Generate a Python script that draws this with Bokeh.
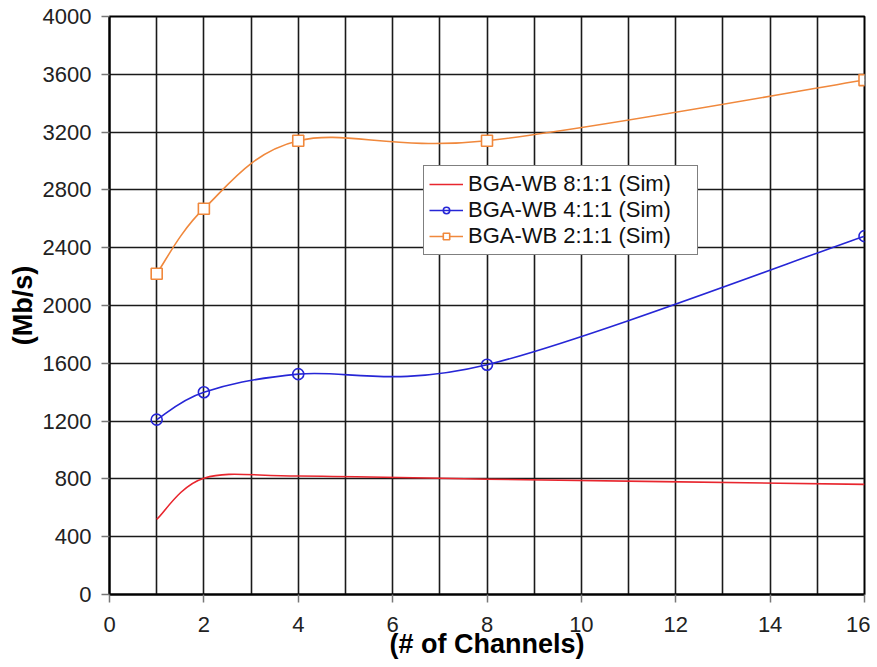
from bokeh.plotting import figure
from bokeh.models import Range1d, FixedTicker, SingleIntervalTicker, Legend, LegendItem, ColumnDataSource
from bokeh.embed import file_html
from bokeh.resources import INLINE

# ---- data ----
channels = [1, 2, 4, 8, 16]
wb_8_1_1 = [520, 805, 820, 798, 762]
wb_4_1_1 = [1210, 1400, 1525, 1590, 2480]
wb_2_1_1 = [2220, 2670, 3140, 3140, 3560]
series_labels = ["BGA-WB 8:1:1 (Sim)", "BGA-WB 4:1:1 (Sim)", "BGA-WB 2:1:1 (Sim)"]
x_ticks = [0, 2, 4, 6, 8, 10, 12, 14, 16]
y_ticks = [0, 400, 800, 1200, 1600, 2000, 2400, 2800, 3200, 3600, 4000]

RED = "#e8262e"
BLUE = "#2626d6"
ORANGE = "#f0883c"
FONT = "Liberation Sans"


def smooth_segments(xs, ys):
    """Catmull-Rom style control points (like spreadsheet 'smoothed line')."""
    n = len(xs)
    d = dict(x0=[], y0=[], x1=[], y1=[], cx0=[], cy0=[], cx1=[], cy1=[])
    for i in range(n - 1):
        im = max(i - 1, 0)
        ip = min(i + 2, n - 1)
        d["x0"].append(xs[i]); d["y0"].append(ys[i])
        d["x1"].append(xs[i + 1]); d["y1"].append(ys[i + 1])
        d["cx0"].append(xs[i] + (xs[i + 1] - xs[im]) / 6.0)
        d["cy0"].append(ys[i] + (ys[i + 1] - ys[im]) / 6.0)
        d["cx1"].append(xs[i + 1] - (xs[ip] - xs[i]) / 6.0)
        d["cy1"].append(ys[i + 1] - (ys[ip] - ys[i]) / 6.0)
    return ColumnDataSource(d)


p = figure(width=870, height=667, output_backend="svg", toolbar_location=None,
           x_range=Range1d(0, 16), y_range=Range1d(0, 4000),
           min_border_left=109, min_border_right=6, min_border_top=16, min_border_bottom=73)
p.background_fill_color = "white"
p.border_fill_color = "white"
p.outline_line_color = "black"
p.outline_line_width = 2

p.xaxis.ticker = FixedTicker(ticks=x_ticks)
p.yaxis.ticker = FixedTicker(ticks=y_ticks)
p.xgrid.ticker = SingleIntervalTicker(interval=1)
p.ygrid.ticker = FixedTicker(ticks=y_ticks)
for g in (p.xgrid, p.ygrid):
    g.grid_line_color = "#1a1a1a"
    g.grid_line_width = 1.6
    g.grid_line_alpha = 1.0

for ax in (p.xaxis, p.yaxis):
    ax.axis_line_color = "black"
    ax.axis_line_width = 2
    ax.major_tick_line_color = "#777777"
    ax.major_tick_line_width = 1.5
    ax.major_tick_in = 0
    ax.major_tick_out = 8
    ax.minor_tick_line_color = None
    ax.major_label_text_font = FONT
    ax.major_label_text_font_size = "22px"
    ax.major_label_text_color = "#222222"
    ax.axis_label_text_font = FONT
    ax.axis_label_text_font_size = "27px"
    ax.axis_label_text_font_style = "bold"
    ax.axis_label_text_color = "black"

p.xaxis.axis_label = "(# of Channels)"
p.yaxis.axis_label = "(Mb/s)"
p.xaxis.major_label_standoff = 14
p.xaxis.axis_label_standoff = -6
p.yaxis.major_label_standoff = 10
p.yaxis.axis_label_standoff = 2

# ---- series ----
s8 = smooth_segments(channels, wb_8_1_1)
s4 = smooth_segments(channels, wb_4_1_1)
s2 = smooth_segments(channels, wb_2_1_1)

bz = dict(x0="x0", y0="y0", x1="x1", y1="y1", cx0="cx0", cy0="cy0", cx1="cx1", cy1="cy1")
l8 = p.bezier(source=s8, line_color=RED, line_width=1.6, **bz)
l4 = p.bezier(source=s4, line_color=BLUE, line_width=1.6, **bz)
l2 = p.bezier(source=s2, line_color=ORANGE, line_width=1.6, **bz)

m4 = p.scatter(channels, wb_4_1_1, marker="circle", size=11, line_color=BLUE,
               line_width=1.6, fill_color=None)
m2 = p.scatter(channels, wb_2_1_1, marker="square", size=11, line_color=ORANGE,
               line_width=1.6, fill_color="white")

legend = Legend(items=[
    LegendItem(label=series_labels[0], renderers=[l8]),
    LegendItem(label=series_labels[1], renderers=[l4, m4]),
    LegendItem(label=series_labels[2], renderers=[l2, m2]),
], location=(314, 339))
legend.label_text_font = FONT
legend.label_text_font_size = "22px"
legend.label_text_color = "#111111"
legend.label_height = 16
legend.glyph_height = 16
legend.glyph_width = 34
legend.label_width = 224
legend.label_standoff = 5
legend.spacing = 0
legend.padding = 5
legend.margin = 0
legend.border_line_color = "black"
legend.border_line_width = 1.2
legend.background_fill_color = "white"
legend.background_fill_alpha = 1.0
p.add_layout(legend)

open("out.html", "w").write(file_html(p, INLINE))
